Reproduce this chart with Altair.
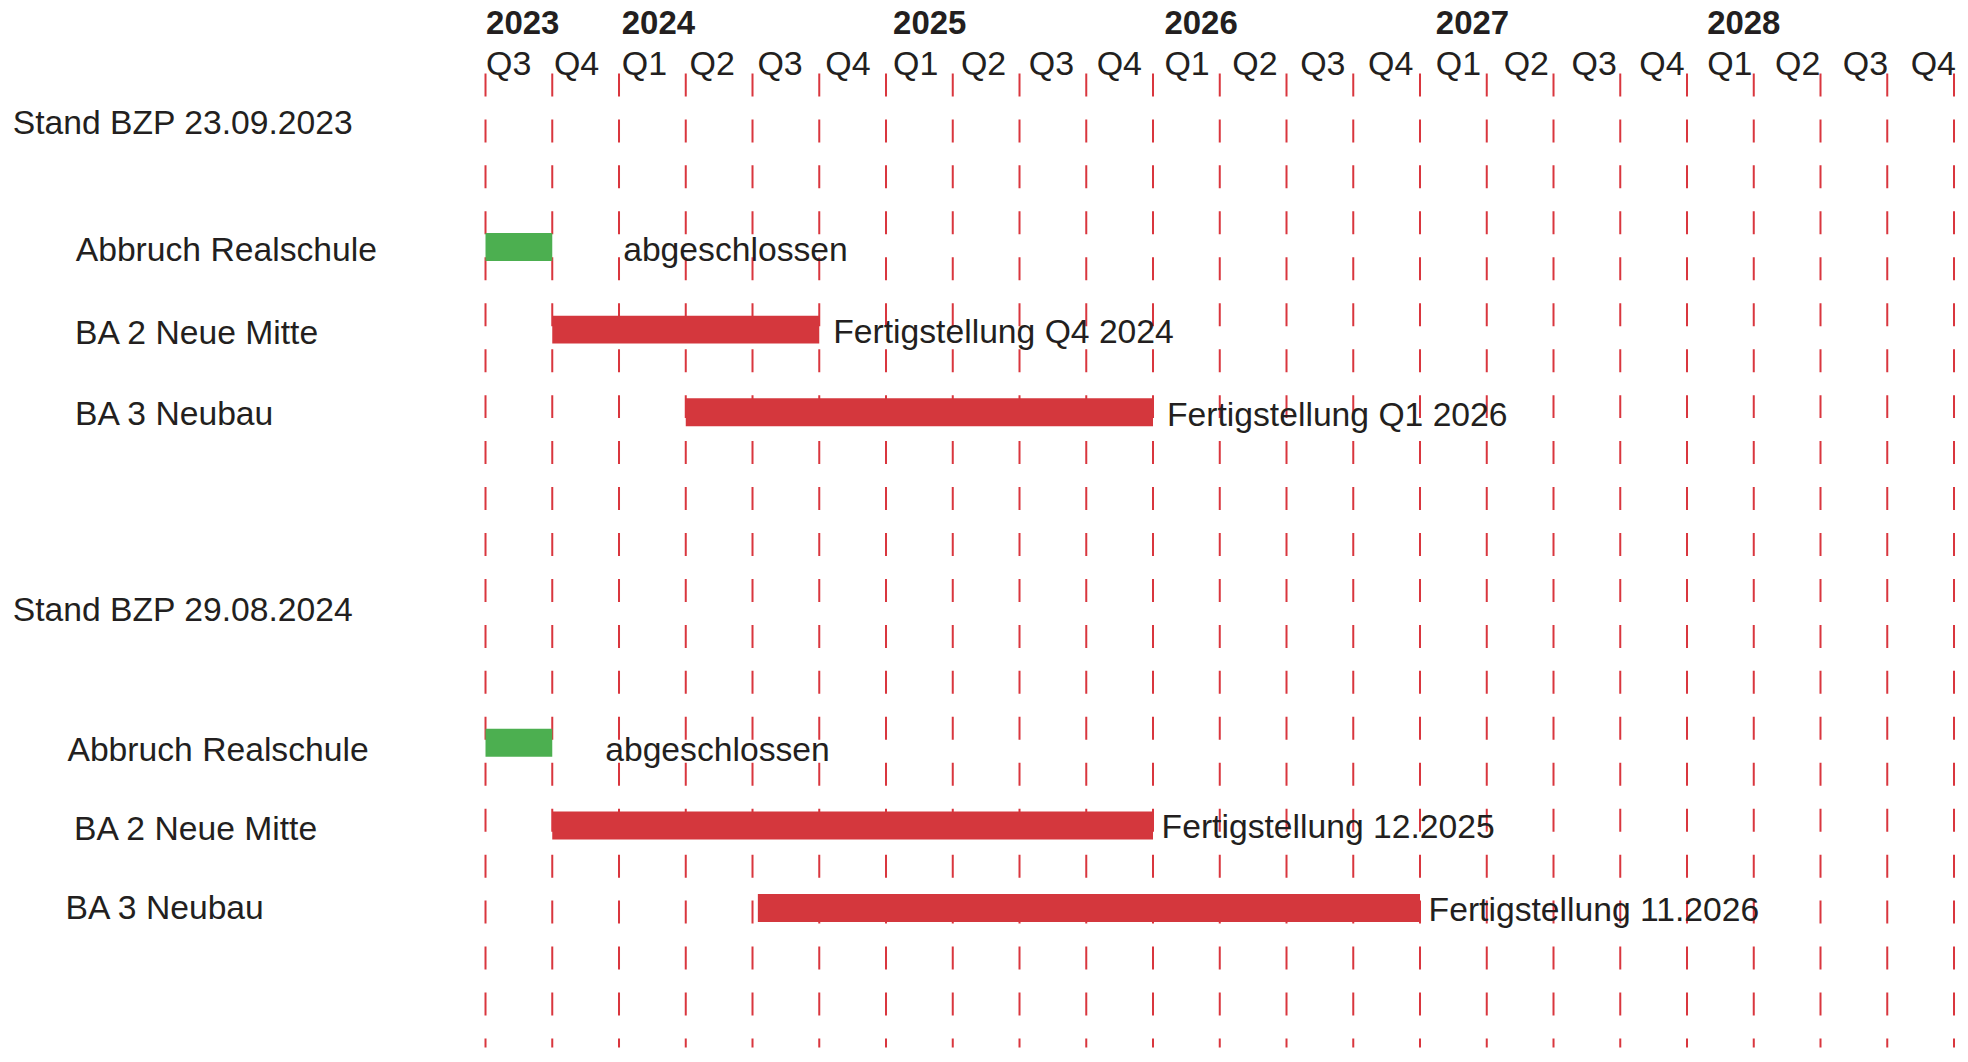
import altair as alt
import pandas as pd

FONT = "Liberation Sans, Arial, Helvetica, sans-serif"
TEXT_COLOR = "#231F20"
BAR_RED = "#D4373D"
BAR_GREEN = "#4CAF50"
LINE_RED = "#D9363E"
LABEL_SIZE = 33.7

# ---------------- data ----------------
snapshot_titles = ["Stand BZP 23.09.2023", "Stand BZP 29.08.2024"]
task_names = ["Abbruch Realschule", "BA 2 Neue Mitte", "BA 3 Neubau"]
task_state = ["done", "open", "open"]

# time in decimal years (2023.5 = start of Q3 2023)
start_2023 = [2023.5, 2023.75, 2024.25]
end_2023 = [2023.75, 2024.75, 2026.0]
note_2023 = ["abgeschlossen", "Fertigstellung Q4 2024", "Fertigstellung Q1 2026"]

start_2024 = [2023.5, 2023.75, 2024.52]
end_2024 = [2023.75, 2026.0, 2027.0]
note_2024 = ["abgeschlossen", "Fertigstellung 12.2025", "Fertigstellung 11.2026"]

quarter_bounds = [2023.5, 2023.75, 2024.0, 2024.25, 2024.5, 2024.75,
                  2025.0, 2025.25, 2025.5, 2025.75, 2026.0, 2026.25,
                  2026.5, 2026.75, 2027.0, 2027.25, 2027.5, 2027.75,
                  2028.0, 2028.25, 2028.5, 2028.75, 2029.0]
quarter_labels = ["Q3", "Q4",
                  "Q1", "Q2", "Q3", "Q4",
                  "Q1", "Q2", "Q3", "Q4",
                  "Q1", "Q2", "Q3", "Q4",
                  "Q1", "Q2", "Q3", "Q4",
                  "Q1", "Q2", "Q3", "Q4"]
year_labels = ["2023", "2024", "2025", "2026", "2027", "2028"]
year_at = [2023.5, 2024.0, 2025.0, 2026.0, 2027.0, 2028.0]

# ---------------- layout (not data) ----------------
# vertical slot of each labelled row on a fine band grid; other slots are blank spacers
ROW_SLOTS = [4, 16, 24, 32, 51, 64, 72, 80]
N_SLOTS = 94
# row label placement (axis label padding / vertical nudge, px), header first
LABEL_PAD = [[473.7, 410.7, 411.5, 411.5], [473.7, 419.0, 412.5, 421.0]]
LABEL_NUDGE = [[0.5, 4.3, 4.2, 3.1], [2.4, 8.0, 4.3, 0.9]]
# note placement per (section, state): (dx, dy)
NOTE_SHIFT = {(0, "done"): (71, 4.3), (0, "open"): (14, 3.7),
              (1, "done"): (53, 8.0), (1, "open"): (8.6, 2.6)}

# ---------------- tables ----------------
row_keys = []
pad_of, nudge_of = {}, {}
recs = []
sections = [(start_2023, end_2023, note_2023), (start_2024, end_2024, note_2024)]
for s, (starts, ends, notes) in enumerate(sections):
    hk = f"{s}|{snapshot_titles[s]}"
    row_keys.append(hk)
    pad_of[hk] = LABEL_PAD[s][0]
    nudge_of[hk] = LABEL_NUDGE[s][0]
    for t, name in enumerate(task_names):
        k = f"{s}|{name}"
        row_keys.append(k)
        pad_of[k] = LABEL_PAD[s][t + 1]
        nudge_of[k] = LABEL_NUDGE[s][t + 1]
        recs.append({"row": k, "sec": s, "start": starts[t], "end": ends[t],
                     "note": notes[t], "state": task_state[t]})
tasks = pd.DataFrame(recs)

slot_to_key = dict(zip(ROW_SLOTS, row_keys))
row_domain = [slot_to_key.get(i, f"~gap{i}") for i in range(N_SLOTS)]

bounds_df = pd.DataFrame({"t": quarter_bounds})
q_df = pd.DataFrame({"t": quarter_bounds[:-1], "lab": quarter_labels})
yr_df = pd.DataFrame({"t": year_at, "lab": year_labels})

# ---------------- scales / axes ----------------
x_scale = alt.Scale(domain=[2023.5, 2029.0], nice=False, zero=False)
head_scale = alt.Scale(domain=[2023.5, 2029.0], range=[0.6, 1494.5], nice=False, zero=False)
y_scale = alt.Scale(domain=row_domain, paddingInner=0, paddingOuter=0.15, align=1)


def per_label(values, default):
    return {
        "condition": [{"test": f"datum.value === '{k}'", "value": v} for k, v in values.items()],
        "value": default,
    }


y_axis = alt.Axis(
    values=row_keys,
    labelExpr="split(datum.value, '|')[1]",
    domain=False, ticks=False, tickSize=0, grid=False, title=None,
    labelAlign="left", labelBaseline="middle",
    labelFont=FONT, labelFontSize=LABEL_SIZE, labelColor=TEXT_COLOR,
    labelLimit=900, labelOverlap=False,
    labelPadding=per_label(pad_of, 412),
    labelOffset=per_label(nudge_of, 0),
)
y_enc = alt.Y("row:N", scale=y_scale, axis=y_axis)

# ---------------- layers ----------------
rules = alt.Chart(bounds_df).mark_rule(
    color=LINE_RED, strokeWidth=2, strokeDash=[23, 23]
).encode(x=alt.X("t:Q", scale=x_scale, axis=None))

bars = alt.Chart(tasks).mark_bar(size=28).encode(
    x=alt.X("start:Q", scale=x_scale, axis=None),
    x2="end:Q",
    y=y_enc,
    color=alt.Color("state:N", scale=alt.Scale(domain=["done", "open"], range=[BAR_GREEN, BAR_RED]), legend=None),
)

note_layers = []
for (sec, state), (dx, dy) in NOTE_SHIFT.items():
    note_layers.append(
        alt.Chart(tasks)
        .transform_filter(f"datum.sec === {sec} && datum.state === '{state}'")
        .mark_text(align="left", baseline="middle", dx=dx, dy=dy,
                   font=FONT, fontSize=LABEL_SIZE, color=TEXT_COLOR)
        .encode(x=alt.X("end:Q", scale=x_scale, axis=None), y=y_enc, text="note:N")
    )

main = alt.layer(rules, bars, *note_layers)

q_text = alt.Chart(q_df).mark_text(
    align="left", baseline="alphabetic", font=FONT, fontSize=34, color=TEXT_COLOR
).encode(x=alt.X("t:Q", scale=head_scale, axis=None), y=alt.value(2), text="lab:N")

yr_text = alt.Chart(yr_df).mark_text(
    align="left", baseline="alphabetic", font=FONT, fontSize=33, fontWeight="bold", color=TEXT_COLOR
).encode(x=alt.X("t:Q", scale=head_scale, axis=None), y=alt.value(-39.7), text="lab:N")

header = alt.layer(q_text, yr_text)

chart = alt.layer(main, header).resolve_scale(x="independent").properties(
    width=1470,
    height=975,
    padding={"left": 478, "top": 65, "right": 6, "bottom": 0},
    autosize=alt.AutoSizeParams(type="none"),
    background="white",
).configure_view(stroke=None)

chart.save("out.html", embed_options={"renderer": "svg", "actions": False})
